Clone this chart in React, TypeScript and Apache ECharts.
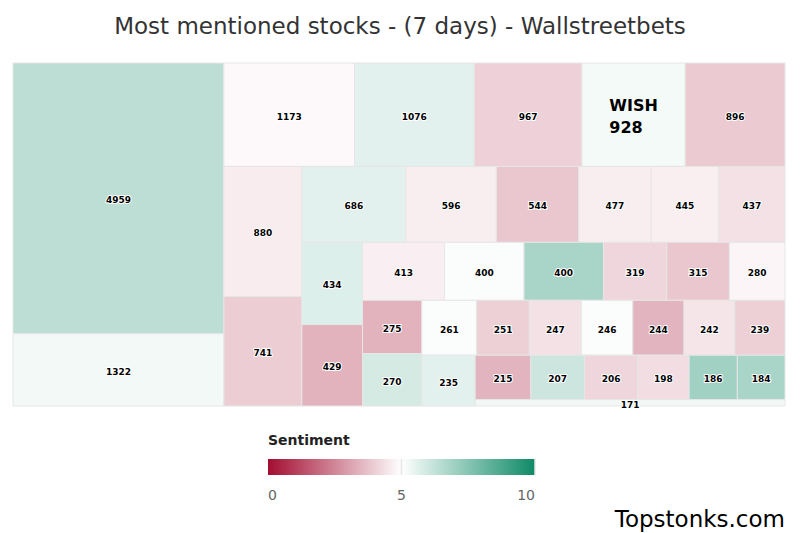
import React, { useEffect, useRef } from "react";
import * as echarts from "echarts";

// ---- data ----
const values = [
  4959, 1322, 1173, 1076, 967, 928, 896, 880, 741, 686,
  596, 544, 477, 445, 437, 434, 429, 413, 400, 400,
  319, 315, 280, 275, 270, 261, 251, 247, 246, 244,
  242, 239, 235, 215, 207, 206, 198, 186, 184, 171,
];
const sentiment = [
  6.4, 5.25, 4.88, 5.6, 4.05, 5.23, 3.9, 4.6, 3.97, 5.6,
  4.64, 3.85, 4.64, 4.66, 4.37, 5.7, 3.4, 4.65, 5.1, 6.8,
  4.15, 3.85, 4.8, 3.4, 5.9, 5.1, 4.0, 4.37, 5.1, 3.45,
  4.47, 4.0, 5.6, 3.45, 6.05, 4.15, 4.3, 6.95, 6.8, 5.3,
];
const names = [
  "", "", "", "", "", "WISH", "", "", "", "",
  "", "", "", "", "", "", "", "", "", "",
  "", "", "", "", "", "", "", "", "", "",
  "", "", "", "", "", "", "", "", "", "",
];
const legendTicks = [0, 5, 10];
const sentimentMin = 0;
const sentimentMax = 10;
const colorStops = ["#a30d30", "#ffffff", "#0e8a66"];

const TITLE = "Most mentioned stocks - (7 days) - Wallstreetbets";
const LEGEND_TITLE = "Sentiment";
const CREDIT = "Topstonks.com";

// plot area (layout space)
const PLOT = { left: 13, top: 63, width: 772, height: 343 };
const FONT = "'DejaVu Sans', Verdana, sans-serif";

type R = { x: number; y: number; w: number; h: number };

// Highcharts-style squarified (low aspect ratio, alternating strips)
function squarified(vals: number[], W: number, H: number): R[] {
  const total = vals.reduce((a, b) => a + b, 0);
  const areas = vals.map((v) => (v / total) * W * H);
  const out: R[] = [];
  let px = 0, py = 0, gw = W, gh = H, dir = 0;
  let elArr: number[] = [];
  let sum = 0;
  let lW = 0, nW = 0, lH = 0, nH = 0, lR = NaN, nR = NaN;
  const ar = (a: number, b: number) => Math.max(a / b, b / a);
  const reset = () => {
    elArr = []; sum = 0; lW = nW = lH = nH = 0; lR = nR = NaN;
  };
  const add = (el: number) => {
    const lastTotal = elArr[elArr.length - 1] as number;
    sum += el;
    if (dir === 0) {
      lW = nW; lR = ar(lW, lastTotal / lW);
      nW = sum / gh; nR = ar(nW, lastTotal / nW);
    } else {
      lH = nH; lR = ar(lastTotal / lH, lH);
      nH = sum / gw; nR = ar(lastTotal / nH, nH);
    }
    elArr.push(el);
  };
  const calc = (last: boolean) => {
    const sw = last ? nW : lW;
    const sh = last ? nH : lH;
    const keep = elArr[elArr.length - 1];
    const end = elArr.length - 1;
    elArr.forEach((p, i) => {
      if (last || i < end) {
        if (dir === 0) { out.push({ x: px, y: py, w: sw, h: p / sw }); py += p / sw; }
        else { out.push({ x: px, y: py, w: p / sh, h: sh }); px += p / sh; }
      }
    });
    if (dir === 0) gw -= sw; else gh -= sh;
    px = W - gw; py = H - gh;
    dir = 1 - dir;
    reset();
    if (!last) add(keep);
  };
  areas.forEach((a, i) => {
    add(a);
    if (nR > lR) calc(false);
    if (i === areas.length - 1) calc(true);
  });
  return out;
}

const layout = squarified(values, PLOT.width, PLOT.height);

export default function App() {
  const ref = useRef<HTMLDivElement>(null);
  useEffect(() => {
    if (!ref.current) return;
    const chart = echarts.init(ref.current, undefined, { renderer: "svg" });

    const legendX = 268, legendW = 267, legendY = 459, legendH = 16;
    const gradient = new echarts.graphic.LinearGradient(0, 0, 1, 0,
      colorStops.map((c, i) => ({ offset: i / (colorStops.length - 1), color: c })));
    const graphics: any[] = [
      {
        type: "text", left: legendX, top: 433,
        style: { text: LEGEND_TITLE, fontSize: 14, fontWeight: "bold", fill: "#222", fontFamily: FONT },
      },
      {
        type: "rect", shape: { x: legendX, y: legendY, width: legendW, height: legendH },
        style: { fill: gradient },
      },
    ];
    legendTicks.forEach((t, i) => {
      const x = legendX + ((t - sentimentMin) / (sentimentMax - sentimentMin)) * legendW;
      if (i > 0) {
        graphics.push({
          type: "line", shape: { x1: x, y1: legendY, x2: x, y2: legendY + legendH },
          style: { stroke: "#e6e6e6", lineWidth: 1.5 },
        });
      }
      graphics.push({
        type: "text", x, y: 495,
        style: {
          text: String(t), fontSize: 14, fill: "#666", fontFamily: FONT,
          align: i === 0 ? "left" : i === legendTicks.length - 1 ? "right" : "center",
          verticalAlign: "middle",
        },
      });
    });
    graphics.push({
      type: "text", x: 785, y: 519,
      style: { text: CREDIT, fontSize: 23, fill: "#000", fontFamily: FONT, align: "right", verticalAlign: "middle" },
    });

    chart.setOption({
      animation: false,
      backgroundColor: "#ffffff",
      title: {
        text: TITLE, left: "center", top: 9,
        textStyle: { fontSize: 23, fontWeight: "normal", color: "#333", fontFamily: FONT },
      },
      grid: { left: PLOT.left, top: PLOT.top, width: PLOT.width, height: PLOT.height },
      xAxis: { type: "value", min: 0, max: PLOT.width, show: false },
      yAxis: { type: "value", min: 0, max: PLOT.height, inverse: true, show: false },
      visualMap: {
        show: false, type: "continuous", min: sentimentMin, max: sentimentMax,
        dimension: 2, seriesIndex: 0, inRange: { color: colorStops },
      },
      graphic: graphics,
      series: [
        {
          type: "custom",
          coordinateSystem: "cartesian2d",
          encode: { x: 0, y: 1 },
          data: values.map((v, i) => [i, v, sentiment[i]]),
          renderItem: (params: any, api: any) => {
            const i = api.value(0);
            const r = layout[i];
            const p0 = api.coord([r.x, r.y]);
            const p1 = api.coord([r.x + r.w, r.y + r.h]);
            const x = Math.min(p0[0], p1[0]), y = Math.min(p0[1], p1[1]);
            const w = Math.abs(p1[0] - p0[0]), h = Math.abs(p1[1] - p0[1]);
            const cx = x + w / 2, cy = y + h / 2 + 2;
            const name = names[i];
            const text = name
              ? {
                  type: "text",
                  style: {
                    text: `{a|${name}}\n{a|${values[i]}}`, x: cx, y: cy,
                    align: "center", verticalAlign: "middle",
                    rich: { a: { fontSize: 16, fontWeight: "bold", fill: "#000", fontFamily: FONT, lineHeight: 22, align: "left" } },
                  },
                }
              : {
                  type: "text",
                  style: {
                    text: String(values[i]), x: cx, y: cy, align: "center", verticalAlign: "middle",
                    fill: "#000", stroke: "#fff", lineWidth: 2, fontSize: 9, fontWeight: "bold", fontFamily: FONT,
                  },
                };
            return {
              type: "group",
              children: [
                {
                  type: "rect", shape: { x, y, width: w, height: h },
                  style: { fill: api.visual("color"), stroke: "#e6e6e6", lineWidth: 1 },
                },
                text,
              ],
            };
          },
        },
      ],
    });
    return () => chart.dispose();
  }, []);
  return <div ref={ref} style={{ position: "absolute", left: 0, top: 0, width: 800, height: 533 }} />;
}
